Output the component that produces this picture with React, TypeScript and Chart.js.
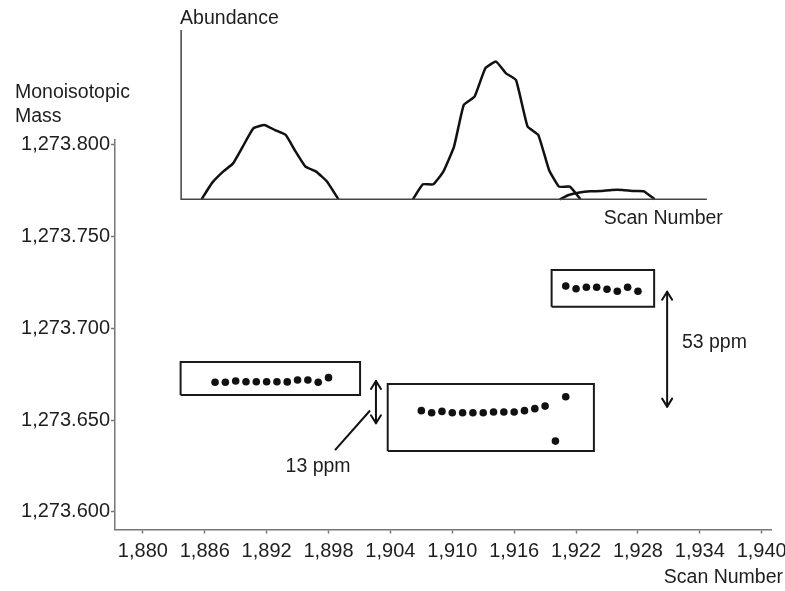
import React, { useEffect, useRef } from "react";
import { Chart, registerables } from "chart.js";

Chart.register(...registerables);

// ---- axis ticks ----
const xTicks = [1880, 1886, 1892, 1898, 1904, 1910, 1916, 1922, 1928, 1934, 1940];
const yTicks = [1273.6, 1273.65, 1273.7, 1273.75, 1273.8];

// ---- monoisotopic mass points ----
const scans1 = [1887, 1888, 1889, 1890, 1891, 1892, 1893, 1894, 1895, 1896, 1897, 1898];
const mass1 = [1273.6706, 1273.6706, 1273.6713, 1273.6709, 1273.6709, 1273.6709, 1273.6709, 1273.6708, 1273.6718, 1273.6718, 1273.6706, 1273.6731];

const scans2 = [1907, 1908, 1909, 1910, 1911, 1912, 1913, 1914, 1915, 1916, 1917, 1918, 1919, 1920, 1921];
const mass2 = [1273.6551, 1273.654, 1273.6547, 1273.654, 1273.654, 1273.654, 1273.654, 1273.6544, 1273.6544, 1273.6544, 1273.6551, 1273.6562, 1273.6576, 1273.6385, 1273.6627];

const scans3 = [1921, 1922, 1923, 1924, 1925, 1926, 1927, 1928];
const mass3 = [1273.7231, 1273.7216, 1273.7224, 1273.7224, 1273.7213, 1273.7202, 1273.7224, 1273.7202];

// ---- boxes around the clusters ----
const boxScanMin = [1883.66, 1903.74, 1919.63];
const boxScanMax = [1901.06, 1923.73, 1929.57];
const boxMassMin = [1273.6636, 1273.6331, 1273.7118];
const boxMassMax = [1273.6816, 1273.6696, 1273.7318];

// ---- ppm arrows & labels ----
const arrowScans = [1902.6, 1930.83];
const arrowMassLow = [1273.6482, 1273.6573];
const arrowMassHigh = [1273.6713, 1273.72];
const ppmLabels = ["13 ppm", "53 ppm"];
const ppmLabelScans = [1896.99, 1932.26];
const ppmLabelMass = [1273.6244, 1273.692];
const ppmLabelAlign = ["center", "left"];
const leaderScans = [1898.63, 1902.03];
const leaderMass = [1273.6336, 1273.6552];

// ---- inset chromatogram (relative abundance) ----
const peak1Scans = [1885.69, 1886.73, 1887.78, 1888.75, 1889.69, 1890.73, 1891.77, 1892.81, 1893.85, 1894.72, 1895.77, 1896.8, 1897.85, 1898.96];
const peak1Abund = [0, 12.1, 20.1, 26.1, 38.3, 51.6, 54.0, 50.3, 46.7, 35.8, 23.7, 20.1, 12.9, 0];
const peak2Scans = [1906.18, 1907.15, 1908.16, 1909.13, 1910.17, 1911.11, 1912.16, 1913.2, 1914.24, 1915.21, 1916.18, 1917.3, 1918.34, 1919.38, 1920.35, 1921.4, 1922.43];
const peak2Abund = [0, 10.9, 10.9, 20.1, 38.3, 68.5, 74.6, 95.1, 100, 91.5, 86.6, 52.8, 46.7, 21.3, 9.2, 9.2, 0];
const peak3Scans = [1920.42, 1921.29, 1922.33, 1923.37, 1924.42, 1925.46, 1926.5, 1927.54, 1928.58, 1929.62];
const peak3Abund = [0, 3.1, 4.9, 5.8, 6.0, 6.8, 6.8, 6.0, 5.8, 0];
const insetAxisScans = [1883.71, 1883.71, 1934.68];
const insetAxisAbund = [122.9, 0, 0];

const FONT = '"Liberation Sans", Arial, Helvetica, sans-serif';
const TEXT = "#1e1e1e";

const pts = (xs: number[], ys: number[]) => xs.map((v, i) => ({ x: v, y: ys[i] }));

const annotations = {
  id: "annotations",
  afterDatasetsDraw(chart: any) {
    const { ctx, chartArea } = chart;
    const x = chart.scales.x;
    const y = chart.scales.y;
    const y2 = chart.scales.y2;
    ctx.save();
    // arrows
    ctx.strokeStyle = "#111";
    ctx.lineWidth = 2;
    ctx.lineCap = "round";
    ctx.lineJoin = "round";
    arrowScans.forEach((s, i) => {
      const px = x.getPixelForValue(s);
      const top = y.getPixelForValue(arrowMassHigh[i]);
      const bot = y.getPixelForValue(arrowMassLow[i]);
      ctx.beginPath();
      ctx.moveTo(px, top);
      ctx.lineTo(px, bot);
      ctx.stroke();
      ctx.beginPath();
      ctx.moveTo(px - 5, top + 8);
      ctx.lineTo(px, top);
      ctx.lineTo(px + 5, top + 8);
      ctx.stroke();
      ctx.beginPath();
      ctx.moveTo(px - 5, bot - 8);
      ctx.lineTo(px, bot);
      ctx.lineTo(px + 5, bot - 8);
      ctx.stroke();
    });
    // texts
    ctx.fillStyle = TEXT;
    ctx.font = `19.5px ${FONT}`;
    ctx.textBaseline = "middle";
    ppmLabels.forEach((t, i) => {
      ctx.textAlign = ppmLabelAlign[i] as CanvasTextAlign;
      ctx.fillText(t, x.getPixelForValue(ppmLabelScans[i]), y.getPixelForValue(ppmLabelMass[i]));
    });
    // main y-axis title (horizontal, above the axis)
    ctx.textAlign = "left";
    ctx.fillText("Monoisotopic", y.left + 15, chartArea.top - 47.5);
    ctx.fillText("Mass", y.left + 15, chartArea.top - 23.5);
    // main x-axis title
    ctx.textAlign = "right";
    ctx.fillText("Scan Number", chartArea.right + 12, chartArea.bottom + 48.5);
    // inset titles
    const ix0 = x.getPixelForValue(insetAxisScans[0]);
    const ix1 = x.getPixelForValue(insetAxisScans[2]);
    const iyTop = y2.getPixelForValue(insetAxisAbund[0]);
    const iyBase = y2.getPixelForValue(0);
    ctx.textAlign = "left";
    ctx.fillText("Abundance", ix0 - 1, iyTop - 11);
    ctx.textAlign = "right";
    ctx.fillText("Scan Number", ix1 + 16, iyBase + 19);
    ctx.restore();
  },
};

const whiteBg = {
  id: "whiteBg",
  beforeDraw(chart: any) {
    const { ctx, width, height } = chart;
    ctx.save();
    ctx.fillStyle = "#fff";
    ctx.fillRect(0, 0, width, height);
    ctx.restore();
  },
};

export default function App() {
  const ref = useRef<HTMLCanvasElement | null>(null);

  useEffect(() => {
    if (!ref.current) return;

    const lineDs = (data: any[], extra: any = {}) => ({
      data,
      showLine: true,
      pointRadius: 0,
      borderColor: "#111",
      borderWidth: 2,
      fill: false,
      ...extra,
    });

    const boxes = boxScanMin.map((_, i) =>
      lineDs(
        pts(
          [boxScanMin[i], boxScanMax[i], boxScanMax[i], boxScanMin[i], boxScanMin[i]],
          [boxMassMin[i], boxMassMin[i], boxMassMax[i], boxMassMax[i], boxMassMin[i]]
        ),
        { borderColor: "#1a1a1a", borderWidth: 2, borderJoinStyle: "miter" }
      )
    );

    const dotDs = (xs: number[], ys: number[]) => ({
      data: pts(xs, ys),
      showLine: false,
      pointRadius: 3.8,
      pointBackgroundColor: "#111",
      pointBorderWidth: 0,
      pointBorderColor: "#111",
    });

    const insetDs = (xs: number[], ys: number[]) =>
      lineDs(pts(xs, ys), { yAxisID: "y2", tension: 0.12, borderWidth: 2.5, clip: false, borderJoinStyle: "round" });

    const chart = new Chart(ref.current, {
      type: "scatter",
      data: {
        datasets: [
          lineDs(pts(insetAxisScans, insetAxisAbund), { yAxisID: "y2", borderColor: "#444", borderWidth: 1.5, clip: false }),
          insetDs(peak1Scans, peak1Abund),
          insetDs(peak2Scans, peak2Abund),
          insetDs(peak3Scans, peak3Abund),
          ...boxes,
          lineDs(pts(leaderScans, leaderMass), { borderWidth: 2 }),
          dotDs(scans1, mass1),
          dotDs(scans2, mass2),
          dotDs(scans3, mass3),
        ] as any,
      },
      options: {
        responsive: false,
        animation: false,
        events: [],
        layout: { padding: { top: 140, right: 14, left: 0, bottom: 0 } },
        plugins: { legend: { display: false }, tooltip: { enabled: false }, title: { display: false } },
        scales: {
          x: {
            type: "linear",
            min: 1877.3,
            max: 1940.9,
            afterBuildTicks: (s: any) => {
              s.ticks = xTicks.map((v) => ({ value: v }));
            },
            afterFit: (s: any) => {
              s.height = 61.5;
              s.paddingLeft = 0;
              s.paddingRight = 0;
            },
            ticks: {
              autoSkip: false,
              maxRotation: 0,
              padding: 6,
              color: TEXT,
              font: { family: FONT, size: 20 },
              callback: (v: any) => Number(v).toLocaleString("en-US"),
            },
            grid: { drawOnChartArea: false, drawTicks: true, tickLength: 4, color: "#777", tickWidth: 1.5 },
            border: { display: true, color: "#777", width: 1.5 },
          },
          y: {
            type: "linear",
            min: 1273.5903,
            max: 1273.8027,
            afterBuildTicks: (s: any) => {
              s.ticks = yTicks.map((v) => ({ value: v }));
            },
            afterFit: (s: any) => {
              s.width = 115;
              s.paddingTop = 0;
              s.paddingBottom = 0;
            },
            ticks: {
              padding: 1,
              color: TEXT,
              font: { family: FONT, size: 20 },
              callback: (v: any) =>
                Number(v).toLocaleString("en-US", { minimumFractionDigits: 3, maximumFractionDigits: 3 }),
            },
            grid: { drawOnChartArea: false, drawTicks: true, tickLength: 4, color: "#777", tickWidth: 1.5 },
            border: { display: true, color: "#777", width: 1.5 },
          },
          y2: {
            type: "linear",
            display: false,
            position: "right",
            min: -239.8,
            max: 43.06,
          },
        },
      } as any,
      plugins: [whiteBg, annotations],
    });

    return () => chart.destroy();
  }, []);

  return (
    <div style={{ position: "absolute", left: 0, top: 0, width: 785, height: 591 }}>
      <canvas ref={ref} width={785} height={591} style={{ display: "block", width: 785, height: 591 }} />
    </div>
  );
}
